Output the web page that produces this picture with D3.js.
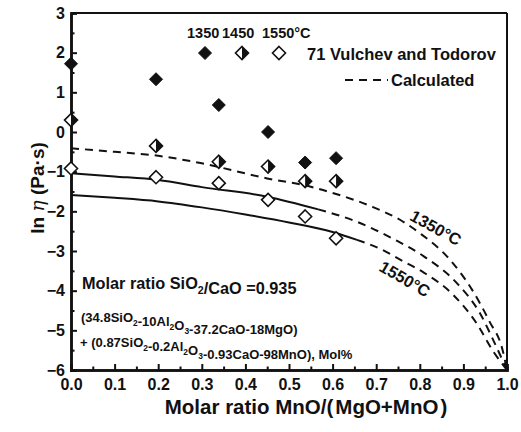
<!DOCTYPE html>
<html><head><meta charset="utf-8">
<script src="https://cdn.jsdelivr.net/npm/d3@7/dist/d3.min.js"></script>
<style>
body{margin:0;background:#fff;}
text{font-family:"Liberation Sans",Arial,sans-serif;font-weight:bold;fill:#111;}
</style></head>
<body><svg id="c" width="521" height="432"></svg>
<script>
// ---- data ----
const xVals = [0, 0.195, 0.339, 0.452, 0.537, 0.608];
const exp1350 = [1.72, 1.33, 0.68, 0.0, -0.77, -0.66];
const exp1450 = [0.30, -0.35, -0.75, -0.87, -1.24, -1.24];
const exp1550 = [-0.92, -1.14, -1.29, -1.71, -2.13, -2.68];

// calculated curves [x, ln eta]
const calc1350 = [[0,-0.41],[0.1,-0.5],[0.2,-0.6],[0.3,-0.79],[0.45,-1.17],[0.55,-1.38],[0.61,-1.57],[0.69,-1.88],[0.76,-2.25],[0.8,-2.55],[0.87,-3.23],[0.92,-3.98],[0.96,-4.78],[0.99,-5.5],[1.0,-6]];
const calc1450Solid = [[0,-1.04],[0.1,-1.12],[0.2,-1.21],[0.3,-1.39],[0.45,-1.63],[0.567,-1.95]];
const calc1450Dash = [[0.567,-1.95],[0.655,-2.26],[0.74,-2.7],[0.81,-3.14],[0.885,-3.81],[0.938,-4.57],[0.972,-5.33],[1.0,-6]];
const calc1550Solid = [[0,-1.59],[0.1,-1.66],[0.2,-1.75],[0.3,-1.9],[0.4,-2.08],[0.5,-2.28],[0.6,-2.52],[0.656,-2.72]];
const calc1550Dash = [[0.656,-2.72],[0.71,-2.95],[0.76,-3.25],[0.81,-3.55],[0.877,-4.11],[0.93,-4.82],[0.969,-5.54],[1.0,-6]];

const xTicks = [0,0.1,0.2,0.3,0.4,0.5,0.6,0.7,0.8,0.9,1.0];
const xMinor = [0.05,0.15,0.25,0.35,0.45,0.55,0.65,0.75,0.85,0.95];
const yTicks = [-6,-5,-4,-3,-2,-1,0,1,2,3];
const yMinor = [-5.5,-4.5,-3.5,-2.5,-1.5,-0.5,0.5,1.5,2.5];
const legendTemps = ["1350","1450","1550°C"];

// ---- drawing ----
const svg = d3.select("#c");
const L=71, R=507, T=13, B=370;
const x = d3.scaleLinear().domain([0,1]).range([L,R]);
const y = d3.scaleLinear().domain([-6,3]).range([B,T]);

// frame top/right
svg.append("line").attr("x1",L).attr("x2",R).attr("y1",T).attr("y2",T).attr("stroke","#111").attr("stroke-width",2);
svg.append("line").attr("x1",R).attr("x2",R).attr("y1",T).attr("y2",B).attr("stroke","#111").attr("stroke-width",2);

// axes
const gx = svg.append("g").attr("transform",`translate(0,${B})`)
  .call(d3.axisBottom(x).tickValues(xTicks).tickFormat(d3.format(".1f")).tickSize(-6).tickPadding(9));
const gxm = svg.append("g").attr("transform",`translate(0,${B})`)
  .call(d3.axisBottom(x).tickValues(xMinor).tickFormat("").tickSize(-3.5));
const gy = svg.append("g").attr("transform",`translate(${L},0)`)
  .call(d3.axisLeft(y).tickValues(yTicks).tickFormat(d3.format("d")).tickSize(-6).tickPadding(6));
const gym = svg.append("g").attr("transform",`translate(${L},0)`)
  .call(d3.axisLeft(y).tickValues(yMinor).tickFormat("").tickSize(-3.5));
[gx,gxm,gy,gym].forEach(g=>{
  g.select(".domain").attr("stroke","#111").attr("stroke-width",2.5);
  g.selectAll(".tick line").attr("stroke","#111").attr("stroke-width",2);
  g.selectAll(".tick text").style("font-size","16px").style("font-family","Liberation Sans, Arial, sans-serif").style("font-weight","bold").attr("fill","#111");
});
gx.selectAll(".tick text").attr("dy","0.71em");

// axis titles
const xt = svg.append("text").attr("x",306).attr("y",414).attr("text-anchor","middle").style("font-size","20.5px");
xt.append("tspan").text("Molar ratio MnO/(");
xt.append("tspan").attr("dx",2).text("MgO+MnO");
xt.append("tspan").attr("dx",2).text(")");
const yt = svg.append("text").attr("transform","translate(44,188) rotate(-90)").attr("text-anchor","middle").style("font-size","19px");
yt.append("tspan").text("ln ");
yt.append("tspan").style("font-style","italic").style("font-weight","normal").style("font-family","DejaVu Serif, serif").text("η");
yt.append("tspan").text(" (Pa·s)");

// curves
const line = d3.line().x(d=>x(d[0])).y(d=>y(d[1])).curve(d3.curveMonotoneX);
const plotG = svg.append("g");
[calc1450Solid, calc1550Solid].forEach(c=>{
  plotG.append("path").attr("d",line(c)).attr("fill","none").attr("stroke","#111").attr("stroke-width",2);
});
[calc1350, calc1450Dash, calc1550Dash].forEach(c=>{
  plotG.append("path").attr("d",line(c)).attr("fill","none").attr("stroke","#111").attr("stroke-width",2).attr("stroke-dasharray","8,6");
});

// markers
const s = 6.5;
function diamond(g, cx, cy, type){
  const pts = `${cx},${cy-s} ${cx+s},${cy} ${cx},${cy+s} ${cx-s},${cy}`;
  if(type==="filled"){
    g.append("polygon").attr("points",pts).attr("fill","#111").attr("stroke","#111").attr("stroke-width",1);
  } else if(type==="half"){
    g.append("polygon").attr("points",pts).attr("fill","#fff").attr("stroke","#111").attr("stroke-width",1.6);
    g.append("polygon").attr("points",`${cx},${cy-s} ${cx+s},${cy} ${cx},${cy+s}`).attr("fill","#111");
  } else {
    g.append("polygon").attr("points",pts).attr("fill","#fff").attr("stroke","#111").attr("stroke-width",1.6);
  }
}
const mk = svg.append("g");
xVals.forEach((xv,i)=>{
  diamond(mk, x(xv), y(exp1550[i]), "open");
  diamond(mk, x(xv), y(exp1450[i]), "half");
  diamond(mk, x(xv), y(exp1350[i]), "filled");
});

// legend
const lg = svg.append("g");
const legX = [187, 222, 262];
legendTemps.forEach((t,i)=>{
  lg.append("text").attr("x",legX[i]).attr("y",38).style("font-size","14.5px").text(t);
});
diamond(lg, 205, 53, "filled");
diamond(lg, 242, 53, "half");
diamond(lg, 279, 53, "open");
lg.append("text").attr("x",307).attr("y",60).style("font-size","16.5px").text("71 Vulchev and Todorov");
lg.append("line").attr("x1",345).attr("x2",388).attr("y1",80).attr("y2",80).attr("stroke","#111").attr("stroke-width",2).attr("stroke-dasharray","8,6");
lg.append("text").attr("x",391).attr("y",86).style("font-size","16.5px").text("Calculated");

// curve labels
svg.append("text").attr("transform","translate(433,233) rotate(29)").attr("text-anchor","middle").style("font-size","16.5px").text("1350°C");
svg.append("text").attr("transform","translate(402,284) rotate(30)").attr("text-anchor","middle").style("font-size","16.5px").text("1550°C");

// annotation
function chem(xx, yy, fs, parts){
  const tx = svg.append("text").attr("x",xx).attr("y",yy).style("font-size",fs+"px");
  parts.forEach(p=>{
    if(typeof p === "string"){ tx.append("tspan").text(p); }
    else if(p.gap){ tx.append("tspan").attr("dx",p.gap).text(""); }
    else { tx.append("tspan").attr("dy", fs*0.3).style("font-size",(fs*0.65)+"px").text(p.sub);
           tx.append("tspan").attr("dy", -fs*0.3).text(""); }
  });
  return tx;
}
chem(82, 289, 16.3, ["Molar ratio SiO",{sub:"2"},"/CaO =0.935"]);
chem(81, 322, 13, ["(",{gap:2},"34.8SiO",{sub:"2"},"-10Al",{sub:"2"},"O",{sub:"3"},"-37.2CaO-18MgO",{gap:2},")"]);
chem(80, 347, 13, ["+ (",{gap:2},"0.87SiO",{sub:"2"},"-0.2Al",{sub:"2"},"O",{sub:"3"},"-0.93CaO-98MnO",{gap:2},"), Mol%"]);
</script></body></html>
